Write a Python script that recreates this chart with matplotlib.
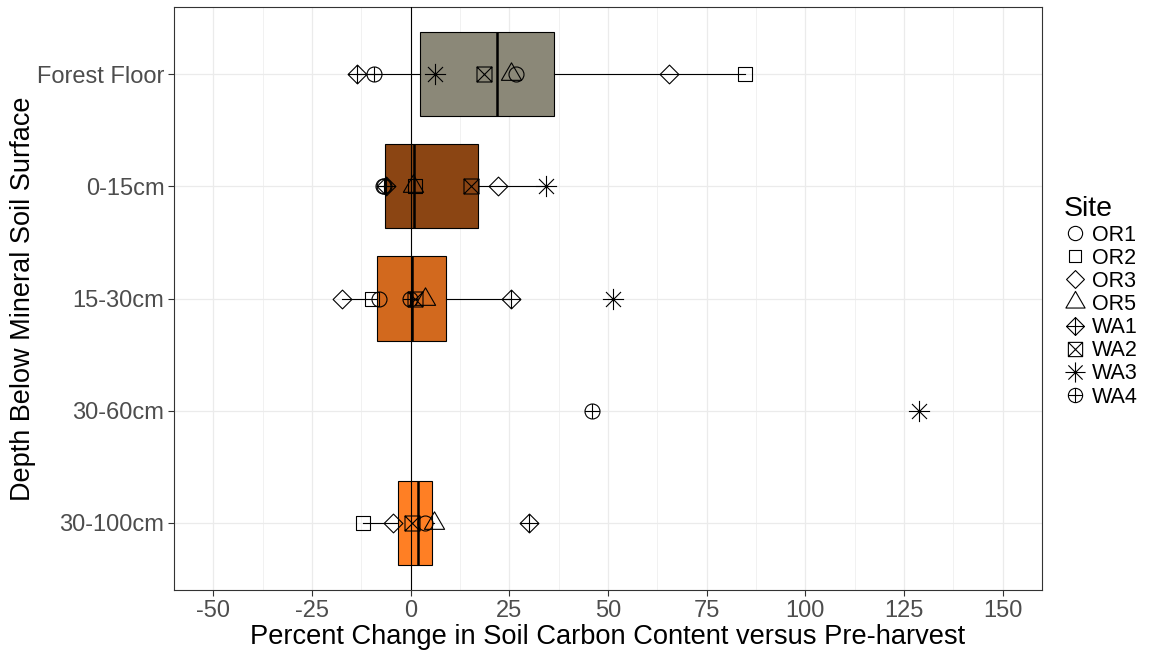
import numpy as np
import matplotlib
matplotlib.use("Agg")
import matplotlib.pyplot as plt
from matplotlib.path import Path
from matplotlib.lines import Line2D

plt.rcParams['font.family'] = ['Liberation Sans', 'DejaVu Sans']
plt.rcParams['axes.unicode_minus'] = False

nan = np.nan
depths = ["Forest Floor", "0-15cm", "15-30cm", "30-60cm", "30-100cm"]
sites = ["OR1", "OR2", "OR3", "OR5", "WA1", "WA2", "WA3", "WA4"]

# percent change per site, one value per depth (nan = no sample)
or1 = [26.7, -7.0, -8.0, nan, 3.6]
or2 = [84.7, 1.2, -9.9, nan, -12.1]
or3 = [65.4, 22.1, -17.5, nan, -4.4]
or5 = [25.3, 0.6, 3.5, nan, 5.9]
wa1 = [-13.7, -6.3, 25.5, nan, 30.0]
wa2 = [18.5, 15.4, 1.0, nan, 0.2]
wa3 = [6.1, 34.3, 51.2, 128.8, nan]
wa4 = [-9.3, -6.8, -0.3, 46.0, nan]
site_values = [or1, or2, or3, or5, wa1, wa2, wa3, wa4]

box_colors = ["#8B8878", "#8B4513", "#D2691E", None, "#FF7F24"]
x_ticks = [-50, -25, 0, 25, 50, 75, 100, 125, 150]


# R-like symbols, coordinates in units of the circle radius
def seg(a, b):
    return Path([a, b], [Path.MOVETO, Path.LINETO])

def poly(pts):
    return Path(pts + [pts[0]], [Path.MOVETO] + [Path.LINETO] * (len(pts) - 1) + [Path.CLOSEPOLY])

sq0 = 0.886
dmd = 1.2533
tri = poly([(0, 1.5551), (1.3468, -0.7776), (-1.3468, -0.7776)])
shapes = {
    "OR1": Path.unit_circle(),
    "OR2": poly([(-sq0, -sq0), (sq0, -sq0), (sq0, sq0), (-sq0, sq0)]),
    "OR3": poly([(0, dmd), (dmd, 0), (0, -dmd), (-dmd, 0)]),
    "OR5": tri,
    "WA1": Path.make_compound_path(poly([(0, dmd), (dmd, 0), (0, -dmd), (-dmd, 0)]),
                                   seg((-dmd, 0), (dmd, 0)), seg((0, -dmd), (0, dmd))),
    "WA2": Path.make_compound_path(poly([(-1, -1), (1, -1), (1, 1), (-1, 1)]),
                                   seg((-1, -1), (1, 1)), seg((-1, 1), (1, -1))),
    "WA3": Path.make_compound_path(seg((-1, -1), (1, 1)), seg((-1, 1), (1, -1)),
                                   seg((-1.414, 0), (1.414, 0)), seg((0, -1.414), (0, 1.414))),
    "WA4": Path.make_compound_path(Path.unit_circle(),
                                   seg((-1, 0), (1, 0)), seg((0, -1), (0, 1))),
}
radius_pt = 5.4

def msize(path):
    return 2 * np.max(np.abs(path.vertices)) * radius_pt


fig = plt.figure(figsize=(11.54, 6.56), dpi=100)
ax = fig.add_axes([174 / 1154, 1 - 590 / 656, (1042 - 174) / 1154, 583 / 656])

ypos = np.arange(len(depths))
vals = np.array(site_values)

# boxes only where there are enough samples
box_idx = [i for i in range(len(depths)) if np.sum(~np.isnan(vals[:, i])) >= 3]
box_data = [vals[~np.isnan(vals[:, i]), i] for i in box_idx]
bp = ax.boxplot(box_data, positions=ypos[box_idx], orientation='horizontal', widths=0.75,
                patch_artist=True, showfliers=False, showcaps=False, whis=1.5,
                boxprops=dict(edgecolor='black', linewidth=0.8),
                whiskerprops=dict(color='black', linewidth=0.8),
                medianprops=dict(color='black', linewidth=1.8),
                zorder=2)
for patch, i in zip(bp['boxes'], box_idx):
    patch.set_facecolor(box_colors[i])

ax.axvline(0, color='black', linewidth=0.8, zorder=3)

handles = []
for name, v in zip(sites, site_values):
    p = shapes[name]
    ax.plot(v, ypos, linestyle='none', marker=p, markersize=msize(p),
            markerfacecolor='none', markeredgecolor='black', markeredgewidth=0.8, zorder=4)
    handles.append(Line2D([], [], linestyle='none', marker=p, markersize=msize(p) * 0.95,
                          markerfacecolor='none', markeredgecolor='black', markeredgewidth=0.8))

ax.set_xlim(-60, 160)
ax.set_ylim(4.6, -0.6)
ax.set_xticks(x_ticks)
ax.set_xticks(np.arange(-37.5, 150, 25), minor=True)
ax.set_yticks(ypos)
ax.set_yticklabels(depths)
ax.tick_params(axis='both', which='major', labelsize=17, labelcolor='#4D4D4D',
               color='#333333', length=4, width=0.8, pad=3)
ax.tick_params(axis='x', which='minor', length=0)
ax.grid(True, which='major', color='#EBEBEB', linewidth=0.9, zorder=0)
ax.grid(True, which='minor', axis='x', color='#EBEBEB', linewidth=0.5, zorder=0)
ax.set_axisbelow(True)
for s in ax.spines.values():
    s.set_color('#333333')
    s.set_linewidth(0.8)

ax.set_xlabel("Percent Change in Soil Carbon Content versus Pre-harvest", fontsize=19.6, labelpad=2)
ax.set_ylabel("Depth Below Mineral Soil Surface", fontsize=19.5, labelpad=1)

leg = fig.legend(handles, sites, loc='center left', bbox_to_anchor=(1049 / 1154, 1 - 302 / 656),
                 frameon=False, title="Site", fontsize=15.5, title_fontsize=20.5,
                 handlelength=1.0, handletextpad=0.3, labelspacing=0.1, alignment='left',
                 borderpad=0.2)

fig.savefig("out.png", dpi=100)
